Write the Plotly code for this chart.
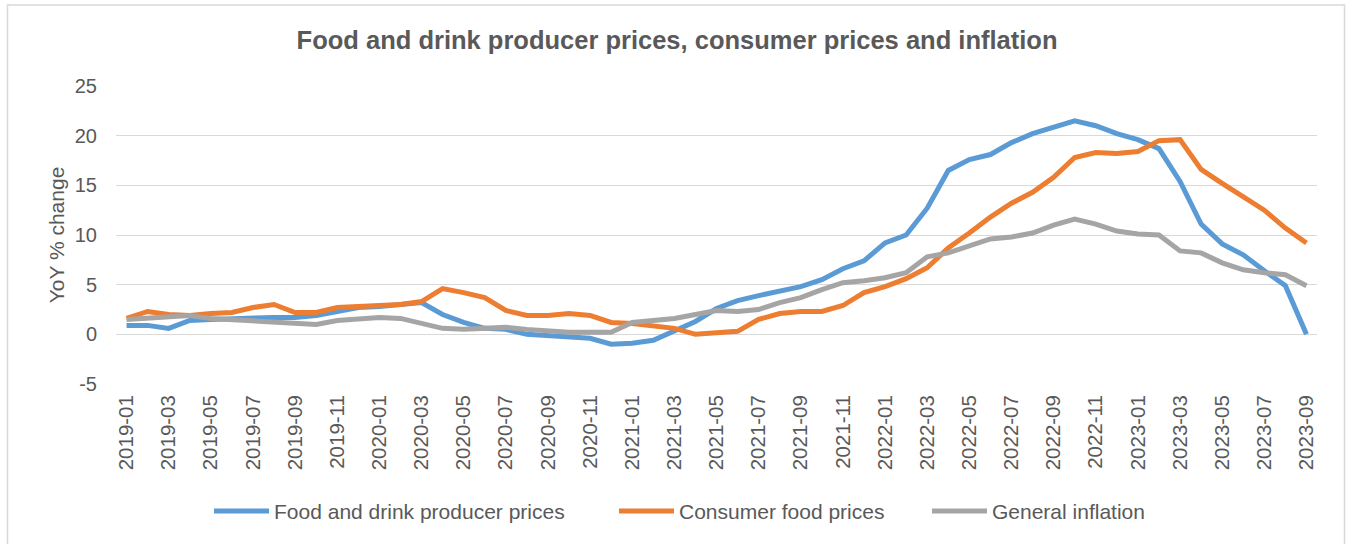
import plotly.graph_objects as go

months = [f"{y}-{m:02d}" for y in range(2019, 2024) for m in range(1, 13)][:57]

producer = [0.9, 0.9, 0.6, 1.4, 1.5, 1.6, 1.6, 1.7, 1.7, 1.9, 2.3, 2.7,
            2.8, 3.0, 3.2, 2.0, 1.2, 0.6, 0.5, 0.0, -0.1, -0.2, -0.4, -1.0,
            -0.9, -0.6, 0.3, 1.3, 2.6, 3.4, 3.9, 4.4, 4.8, 5.5, 6.6, 7.4,
            9.2, 10.0, 12.7, 16.5, 17.6, 18.1, 19.3, 20.2, 20.9, 21.5, 21.0, 20.2,
            19.6, 18.7, 15.4, 11.1, 9.1, 8.0, 6.4, 4.9, 0.0]

consumer = [1.6, 2.3, 2.0, 1.9, 2.1, 2.2, 2.7, 3.0, 2.2, 2.2, 2.7, 2.8,
            3.0, 3.0, 3.3, 4.6, 4.2, 3.7, 2.4, 1.9, 1.9, 2.1, 1.9, 1.2,
            1.1, 0.8, 0.6, 0.0, 0.1, 0.3, 1.5, 2.1, 2.3, 2.3, 2.9, 4.2,
            4.8, 5.6, 6.7, 8.7, 10.2, 11.8, 13.2, 14.3, 15.8, 17.8, 18.3, 18.2,
            18.4, 19.5, 19.6, 16.6, 15.2, 13.9, 12.5, 10.7, 9.2]

inflation = [1.5, 1.6, 1.7, 1.9, 1.6, 1.5, 1.3, 1.3, 1.1, 1.0, 1.4, 1.6,
             1.7, 1.6, 1.1, 0.6, 0.5, 0.6, 0.7, 0.5, 0.3, 0.2, 0.2, 0.2,
             1.2, 1.4, 1.6, 2.0, 2.4, 2.3, 2.5, 3.2, 3.7, 4.5, 5.2, 5.4,
             5.7, 6.2, 7.8, 8.2, 8.9, 9.6, 9.8, 10.2, 11.0, 11.6, 11.1, 10.4,
             10.1, 10.0, 8.4, 8.2, 7.2, 6.5, 6.2, 6.0, 4.9]

tick_labels = months[::2]
y_ticks = [-5, 0, 5, 10, 15, 20, 25]
y_tick_text = ["-5", "0", "5", "10", "15", "20", "25"]

FONT = "Liberation Sans, Arial, sans-serif"
TXT = "#595959"

PLOT_L, PLOT_W = 116, 1201


def px_to_paper(px):
    return (px - PLOT_L) / PLOT_W


fig = go.Figure()
fig.add_trace(go.Scatter(x=months, y=producer, mode="lines", name="Food and drink producer prices",
                         line=dict(color="#5B9BD5", width=5), legend="legend2"))
fig.add_trace(go.Scatter(x=months, y=consumer, mode="lines", name="Consumer food prices",
                         line=dict(color="#ED7D31", width=5), legend="legend3"))
fig.add_trace(go.Scatter(x=months, y=inflation, mode="lines", name="General inflation",
                         line=dict(color="#A5A5A5", width=5), legend="legend4"))

leg_common = dict(orientation="h", xanchor="left", y=-0.427, yanchor="middle",
                  font=dict(size=21, color=TXT), itemwidth=55, bgcolor="rgba(0,0,0,0)")

fig.update_layout(
    width=1346, height=544,
    margin=dict(l=116, r=29, t=86, b=158),
    paper_bgcolor="white", plot_bgcolor="white",
    font=dict(family=FONT, color=TXT, size=20),
    title=dict(text="<b>Food and drink producer prices, consumer prices and inflation</b>",
               x=0.503, xanchor="center", y=1 - 40 / 544, yanchor="middle",
               font=dict(size=25.5, color=TXT, family=FONT)),
    legend2=dict(x=px_to_paper(215 - 6), **leg_common),
    legend3=dict(x=px_to_paper(620 - 6), **leg_common),
    legend4=dict(x=px_to_paper(933 - 6), **leg_common),
    xaxis=dict(type="category", range=[-0.5, 56.5], tickmode="array",
               tickvals=tick_labels, ticktext=tick_labels, tickangle=-90,
               showgrid=False, showline=False, ticks="", ticklabelstandoff=6,
               tickfont=dict(size=20.5, color=TXT)),
    yaxis=dict(range=[-5, 25], tickmode="array", tickvals=y_ticks, ticktext=y_tick_text,
               showgrid=True, gridcolor="#D9D9D9", gridwidth=1,
               zeroline=False, showline=False, ticks="", tickfont=dict(size=20, color=TXT),
               ticklabelstandoff=18,
               title=dict(text="YoY % change", font=dict(size=21, color=TXT), standoff=4)),
    shapes=[dict(type="rect", xref="paper", yref="paper",
                 x0=px_to_paper(7.5), x1=px_to_paper(1344.5),
                 y0=(386 - 560) / 300, y1=(386 - 4.5) / 300,
                 line=dict(color="#D9D9D9", width=1.5), fillcolor="rgba(0,0,0,0)", layer="below")],
)

fig.write_html("out.html", config={"displayModeBar": False},
               post_script="document.body.style.margin='0';")
